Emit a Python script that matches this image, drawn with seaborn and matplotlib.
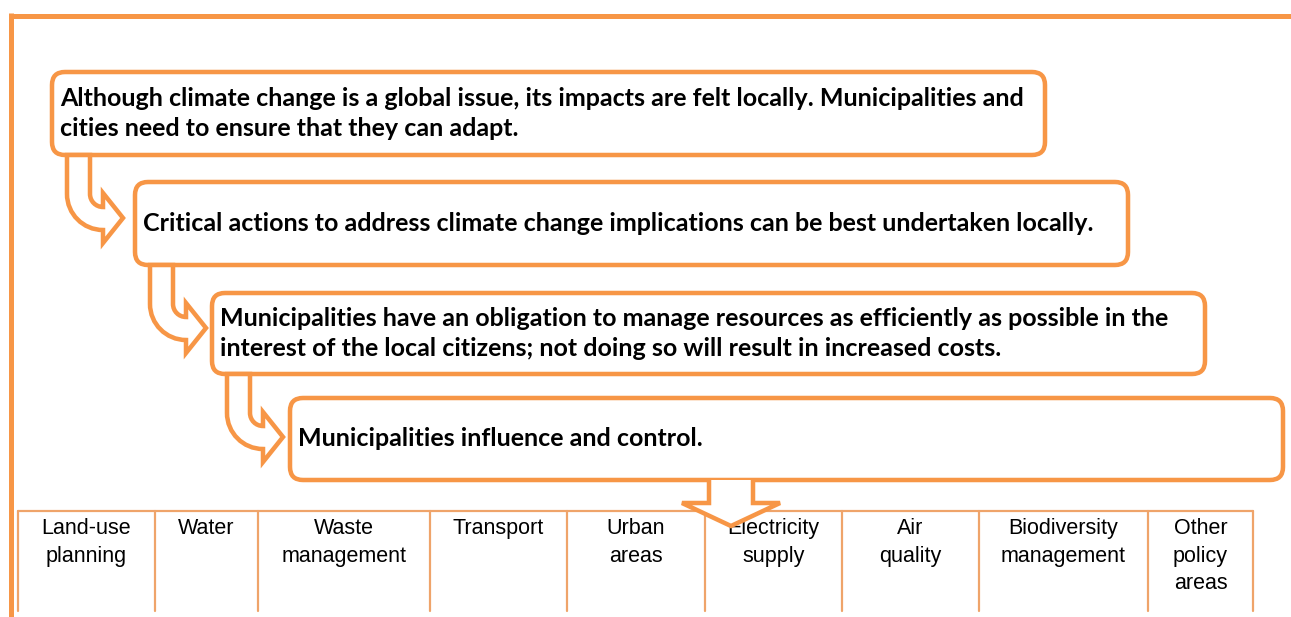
import numpy as np
import matplotlib
matplotlib.use("Agg")
import matplotlib.pyplot as plt
import seaborn as sns
from matplotlib.patches import FancyBboxPatch, PathPatch, Polygon
from matplotlib.path import Path

# --- content ---
box_texts = [
    "Although climate change is a global issue, its impacts are felt locally. Municipalities and\ncities need to ensure that they can adapt.",
    "Critical actions to address climate change implications can be best undertaken locally.",
    "Municipalities have an obligation to manage resources as efficiently as possible in the\ninterest of the local citizens; not doing so will result in increased costs.",
    "Municipalities influence and control.",
]
policy_areas = [
    "Land-use\nplanning", "Water", "Waste\nmanagement", "Transport", "Urban\nareas",
    "Electricity\nsupply", "Air\nquality", "Biodiversity\nmanagement", "Other\npolicy\nareas",
]

# --- layout (pixel units, y grows downward) ---
W, H = 1291, 617
box_left = [52, 135, 212, 290]
box_top = [72, 182, 293, 398]
box_w = 993
box_h = [83, 83, 81, 82]
col_edges = [18, 155, 258, 430, 567, 705, 842, 979, 1148, 1253]
table_top, table_bottom = 511, 611

orange = "#F79646"
table_col = "#EFA46A"

sns.set_theme(style="white")
plt.rcParams["font.family"] = ["Lato", "DejaVu Sans"]

fig = plt.figure(figsize=(W / 100, H / 100), dpi=100)
ax = fig.add_axes([0, 0, 1, 1])
ax.set_xlim(0, W)
ax.set_ylim(H, 0)
ax.axis("off")

px = 0.72  # points per pixel at 100 dpi

# outer frame (top + left only)
ax.plot([11, W], [15.5, 15.5], color=orange, lw=5 * px, solid_capstyle="butt")
ax.plot([11, 11], [13, H], color=orange, lw=5 * px, solid_capstyle="butt")

# table of policy areas
for x in col_edges:
    ax.plot([x, x], [table_top, table_bottom], color=table_col, lw=2.2 * px, zorder=2)
ax.plot([col_edges[0], col_edges[-1]], [table_top, table_top], color=table_col, lw=2.2 * px, zorder=2)
for i, lab in enumerate(policy_areas):
    cx = (col_edges[i] + col_edges[i + 1]) / 2
    ax.text(cx, table_top + 7, lab, ha="center", va="top", fontsize=15.5,
            family=["Liberation Sans Narrow", "Liberation Sans"], color="black",
            linespacing=1.42, zorder=3)

# rounded boxes with text
for i, txt in enumerate(box_texts):
    x0, y0, h = box_left[i], box_top[i], box_h[i]
    ax.add_patch(FancyBboxPatch((x0, y0), box_w, h,
                                boxstyle="round,pad=0,rounding_size=13",
                                facecolor="white", edgecolor=orange, lw=4.5 * px, zorder=4))
    ax.text(x0 + 8, y0 + h / 2, txt, ha="left", va="center", fontsize=18,
            fontweight="bold", color="black", linespacing=1.36, zorder=5)

# bent arrows between boxes
k = 0.5523
def bent_arrow(x0, y0):
    xl, xr, xb, xt = x0 + 15, x0 + 38, x0 + 51, x0 + 71
    yc = y0 + 63
    yt, ybb = y0 + 52, y0 + 75
    yht, yhb = y0 + 38, y0 + 88
    ro = xb - xl
    ri = xb - xr
    cy = ybb - ro
    verts = [
        (xl, y0), (xl, cy),
        (xl, cy + k * ro), (xb - k * ro, ybb), (xb, ybb),
        (xb, yhb), (xt, yc), (xb, yht), (xb, yt),
        (xb - k * ri, yt), (xr, yt - ri + k * ri), (xr, yt - ri),
        (xr, y0), (xl, y0),
    ]
    codes = [Path.MOVETO, Path.LINETO,
             Path.CURVE4, Path.CURVE4, Path.CURVE4,
             Path.LINETO, Path.LINETO, Path.LINETO, Path.LINETO,
             Path.CURVE4, Path.CURVE4, Path.CURVE4,
             Path.LINETO, Path.CLOSEPOLY]
    return PathPatch(Path(verts, codes), facecolor="white", edgecolor=orange,
                     lw=4.5 * px, joinstyle="miter", zorder=6)

for i in range(3):
    ax.add_patch(bent_arrow(box_left[i], box_top[i] + box_h[i]))

# down arrow into the table
b = box_top[3] + box_h[3]
down = [(709, b), (709, 503), (682, 503), (731, 526), (780, 503), (753, 503), (753, b)]
ax.add_patch(Polygon(down, closed=False, facecolor="white", edgecolor=orange,
                     lw=4.5 * px, joinstyle="miter", zorder=6))

fig.savefig("out.png", dpi=100)
